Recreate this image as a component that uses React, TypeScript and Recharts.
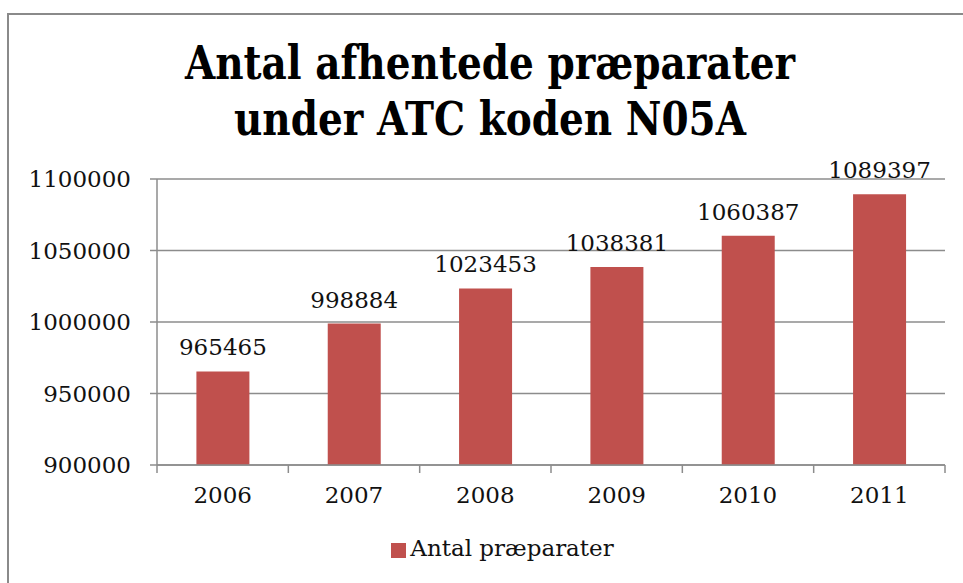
import React from 'react'
import { BarChart, Bar, XAxis, YAxis, CartesianGrid, Legend, LabelList } from 'recharts'

const years = ['2006', '2007', '2008', '2009', '2010', '2011']
const counts = [965465, 998884, 1023453, 1038381, 1060387, 1089397]
const yTicks = [900000, 950000, 1000000, 1050000, 1100000]

const data = years.map((year, i) => ({ year, value: counts[i] }))

const W = 963
const H = 583
const MARGIN = { top: 179, right: 18, left: 0, bottom: 22 }
const Y_AXIS_W = 157
const BAR_COLOR = '#C0504D'
const AXIS_COLOR = '#8C8C8C'
const FONT = '"DejaVu Serif", serif'

const halfBand = (W - MARGIN.left - MARGIN.right - Y_AXIS_W) / years.length / 2

// category label plus Excel-style tick marks at the band edges
function YearTick(props: any) {
  const { x, y, payload, index } = props
  const last = index === years.length - 1
  return (
    <g>
      <line x1={x - halfBand} x2={x - halfBand} y1={y - 8} y2={y} stroke={AXIS_COLOR} strokeWidth={1.5} />
      {last && <line x1={x + halfBand} x2={x + halfBand} y1={y - 8} y2={y} stroke={AXIS_COLOR} strokeWidth={1.5} />}
      <text x={x} y={y + 30} textAnchor="middle" fontSize={23} fontFamily={FONT} fill="#111">
        {payload.value}
      </text>
    </g>
  )
}

function ValueTick(props: any) {
  const { y, payload } = props
  return (
    <text x={Y_AXIS_W - 26} y={y + 8} textAnchor="end" fontSize={23} fontFamily={FONT} fill="#111">
      {payload.value}
    </text>
  )
}

export default function App() {
  return (
    <div style={{ position: 'absolute', left: 0, top: 0, width: W, height: H, overflow: 'hidden', background: '#fff' }}>
      <div
        style={{
          position: 'absolute',
          left: 7,
          top: 13,
          width: 1200,
          height: 1200,
          border: '2px solid #8A8A8A',
        }}
      />
      <div
        style={{
          position: 'absolute',
          left: 0,
          top: 35,
          width: 980,
          textAlign: 'center',
          fontFamily: FONT,
          fontWeight: 'bold',
          fontSize: 47,
          lineHeight: '56px',
          color: '#000',
          transform: 'scaleX(0.83)',
          transformOrigin: '490px 0',
        }}
      >
        Antal afhentede præparater
        <br />
        under ATC koden N05A
      </div>
      <div style={{ position: 'absolute', left: 0, top: 0 }}>
        <BarChart width={W} height={H} data={data} margin={MARGIN} barCategoryGap="30%">
          <CartesianGrid vertical={false} stroke={AXIS_COLOR} strokeWidth={1.5} />
          <XAxis
            dataKey="year"
            tickLine={false}
            axisLine={{ stroke: AXIS_COLOR, strokeWidth: 1.5 }}
            height={70}
            tick={<YearTick />}
            interval={0}
          />
          <YAxis
            width={Y_AXIS_W}
            domain={[900000, 1100000]}
            ticks={yTicks}
            tickSize={7}
            tickLine={{ stroke: AXIS_COLOR, strokeWidth: 1.5 }}
            axisLine={{ stroke: AXIS_COLOR, strokeWidth: 1.5 }}
            tick={<ValueTick />}
            allowDataOverflow
          />
          <Legend
            verticalAlign="bottom"
            iconType="square"
            iconSize={15}
            wrapperStyle={{ left: 60, width: 895, fontFamily: FONT, fontSize: 23 }}
            formatter={(v: string) => <span style={{ color: '#111' }}>{v}</span>}
          />
          <Bar dataKey="value" name="Antal præparater" fill={BAR_COLOR} isAnimationActive={false}>
            <LabelList dataKey="value" position="top" offset={16} fontSize={23} fontFamily={FONT} fill="#111" />
          </Bar>
        </BarChart>
      </div>
    </div>
  )
}
